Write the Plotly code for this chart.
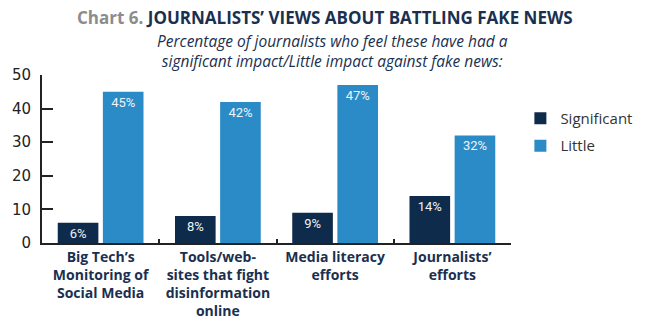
import plotly.graph_objects as go

categories = ["Big Tech’s<br>Monitoring of<br>Social Media",
              "Tools/web-<br>sites that fight<br>disinformation<br>online",
              "Media literacy<br>efforts",
              "Journalists’<br>efforts"]
significant = [6, 8, 9, 14]
little = [45, 42, 47, 32]
series_names = ["Significant", "Little"]
y_ticks = [0, 10, 20, 30, 40, 50]

navy = "#0f2b4b"
blue = "#2b8bc6"

fig = go.Figure()
for name, vals, col in [(series_names[0], significant, navy), (series_names[1], little, blue)]:
    fig.add_trace(go.Bar(
        x=categories, y=vals, name=name, legendgroup=name,
        marker=dict(color=col, line=dict(width=0)),
        text=[f"{v}%" for v in vals], textposition="inside", insidetextanchor="end",
        textangle=0, constraintext="none",
        textfont=dict(family="Roboto", size=13, color="#eef3f8"),
    ))

L, R, T, B = 42, 125, 75, 91
pw = 650 - L - R
ph = 334 - T - B

def px_x(x):
    return (x - L) / pw

def px_y(y):
    return 1 + (T - y) / ph

fig.update_layout(
    width=650, height=334, barmode="group", bargap=0.23, bargroupgap=0.1,
    margin=dict(l=L, r=R, t=T, b=B),
    plot_bgcolor="white", paper_bgcolor="white",
    legend=dict(x=1.02, y=0.84, xanchor="left", yanchor="top",
                font=dict(family="Open Sans", size=15, color="#333333"),
                itemwidth=30, tracegroupgap=5, traceorder="grouped"),
    xaxis=dict(showline=True, linecolor="#222222", linewidth=2, ticks="inside",
               tickson="boundaries", ticklen=4, tickcolor="#222222", tickwidth=2,
               tickfont=dict(family="Open Sans", size=14, color="#1a3050", weight="bold"),
               showgrid=False),
    yaxis=dict(range=[0, 50], tickvals=y_ticks, showline=True, linecolor="#222222",
               linewidth=2, ticks="inside", ticklen=11, tickcolor="#222222", tickwidth=2,
               tickfont=dict(family="DejaVu Sans", size=15, color="#222222"), showgrid=False,
               zeroline=False, ticklabelstandoff=6),
    annotations=[
        dict(text="<span style='color:#8c8c8c'>Chart 6.</span> JOURNALISTS’ VIEWS ABOUT BATTLING FAKE NEWS",
             x=px_x(333), y=px_y(18), xref="paper", yref="paper", showarrow=False,
             xanchor="center", yanchor="middle",
             font=dict(family="Open Sans", size=17, color="#1a3050", weight="bold")),
        dict(text="<i>Percentage of journalists who feel these have had a<br>significant impact/Little impact against fake news:</i>",
             x=px_x(341), y=px_y(51), xref="paper", yref="paper", showarrow=False,
             xanchor="center", yanchor="middle",
             font=dict(family="Open Sans", size=15.5, color="#1a3050")),
    ],
)

fig.write_html("out.html")
